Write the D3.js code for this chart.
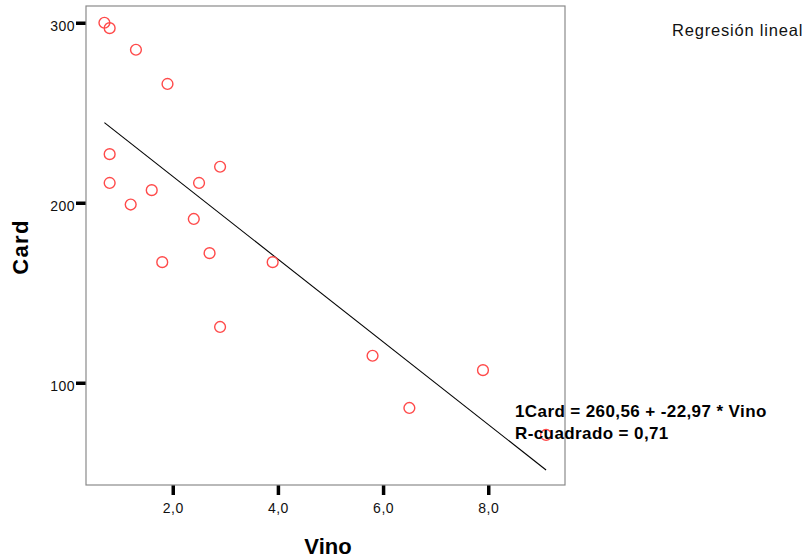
<!DOCTYPE html>
<html>
<head>
<meta charset="utf-8">
<script src="https://cdn.jsdelivr.net/npm/d3@7"></script>
<style>
  html, body { margin: 0; padding: 0; background: #fff; }
  svg { display: block; font-family: "Liberation Sans", Arial, Helvetica, sans-serif; }
</style>
</head>
<body>
<svg id="chart" width="805" height="558"></svg>
<script>
// Wine consumption (Vino) against cardiac mortality (Card), 19 countries
const vino = [2.5, 3.9, 2.9, 2.4, 2.9, 0.8, 9.1, 0.8, 0.7, 7.9, 1.8, 1.9, 0.8, 6.5, 1.6, 5.8, 1.3, 1.2, 2.7];
const card = [211, 167, 131, 191, 220, 297, 71, 211, 300, 107, 167, 266, 227, 86, 207, 115, 285, 199, 172];

// Fitted linear model: Card = intercept + slope * Vino
const intercept = 260.56;
const slope = -22.97;
const rSquared = 0.71;

const xTicks = [2, 4, 6, 8];
const yTicks = [100, 200, 300];

const svg = d3.select("#chart");
const plot = { left: 86, right: 565, top: 6, bottom: 485 };

const x = d3.scaleLinear().domain([0.35, 9.46]).range([plot.left, plot.right]);
const y = d3.scaleLinear().domain([43.2, 309.3]).range([plot.bottom, plot.top]);

// Spanish number format: decimal comma, plain hyphen for negatives
const es = d3.formatLocale({ decimal: ",", thousands: ".", grouping: [3], currency: ["", " €"], minus: "-" });
const fmt1 = es.format(".1f");
const fmt2 = es.format(".2f");

// Axes: thick outward ticks, no domain line
const xAxis = svg.append("g")
  .attr("transform", `translate(0,${plot.bottom})`)
  .call(d3.axisBottom(x).tickValues(xTicks).tickSize(10).tickPadding(8).tickFormat(fmt1));
const yAxis = svg.append("g")
  .attr("transform", `translate(${plot.left},0)`)
  .call(d3.axisLeft(y).tickValues(yTicks).tickSize(10).tickPadding(1).tickFormat(d3.format("d")));

[xAxis, yAxis].forEach(g => {
  g.select(".domain").remove();
  g.selectAll(".tick line").attr("stroke", "#000").attr("stroke-width", 3.5);
  g.selectAll(".tick text")
    .attr("fill", "#111")
    .style("font-family", "'Liberation Sans', Arial, sans-serif")
    .style("font-size", "14px")
    .style("letter-spacing", "0.5px");
});
yAxis.selectAll(".tick text").attr("dy", "0.55em").attr("y", 0);
xAxis.selectAll(".tick text").attr("dy", "0.71em");

// Plot frame
svg.append("rect")
  .attr("x", plot.left).attr("y", plot.top)
  .attr("width", plot.right - plot.left).attr("height", plot.bottom - plot.top)
  .attr("fill", "none").attr("stroke", "#8a8a8a").attr("stroke-width", 1.2);

// Regression line across the observed range
const [xmin, xmax] = d3.extent(vino);
svg.append("path")
  .datum([xmin, xmax])
  .attr("d", d3.line().x(d => x(d)).y(d => y(intercept + slope * d)))
  .attr("fill", "none").attr("stroke", "#000").attr("stroke-width", 1.1);

// Observations
svg.append("g").selectAll("circle")
  .data(d3.range(vino.length))
  .join("circle")
  .attr("cx", i => x(vino[i]))
  .attr("cy", i => y(card[i]))
  .attr("r", 5.4)
  .attr("fill", "none")
  .attr("stroke", "#ff4a4a")
  .attr("stroke-width", 1.4);

// Model annotation
svg.append("text")
  .attr("x", 515).attr("y", 416.5)
  .attr("font-weight", "bold").attr("font-size", 17).style("letter-spacing", "0.4px")
  .attr("fill", "#000")
  .text(`1Card = ${fmt2(intercept)} + ${fmt2(slope)} * Vino`);
svg.append("text")
  .attr("x", 515).attr("y", 438.5)
  .attr("font-weight", "bold").attr("font-size", 17).style("letter-spacing", "0.4px")
  .attr("fill", "#000")
  .text(`R-cuadrado = ${fmt2(rSquared)}`);

// Axis titles
svg.append("text")
  .attr("x", 328).attr("y", 554)
  .attr("text-anchor", "middle")
  .attr("font-weight", "bold").attr("font-size", 22)
  .attr("fill", "#000")
  .text("Vino");
svg.append("text")
  .attr("transform", "translate(28,247) rotate(-90)")
  .attr("text-anchor", "middle")
  .attr("font-weight", "bold").attr("font-size", 22).style("letter-spacing", "1.4px")
  .attr("fill", "#000")
  .text("Card");

// Chart label
svg.append("text")
  .attr("x", 672).attr("y", 35.5)
  .attr("font-size", 16.5).style("letter-spacing", "0.8px")
  .attr("fill", "#111")
  .text("Regresión lineal");
</script>
</body>
</html>
